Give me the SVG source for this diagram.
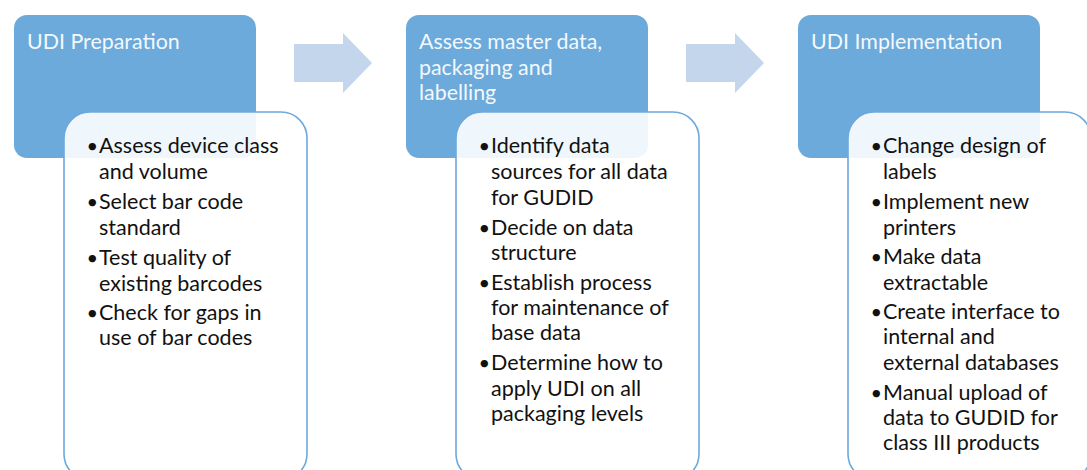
<svg xmlns="http://www.w3.org/2000/svg" width="1087" height="470" viewBox="0 0 1087 470">
<style>
.hdr{fill:#6BAADB;}
.card{fill:#ffffff;fill-opacity:0.9;stroke:#6FA8DC;stroke-width:1.6;}
.arr{fill:#C3D6EC;}
.ht{font-family:Lato,"Liberation Sans",sans-serif;font-size:21.4px;fill:#F4F8FC;}
.bt{font-family:Lato,"Liberation Sans",sans-serif;font-size:21.5px;fill:#111111;}
.bt .b{font-size:20px;}
</style>
<rect width="1087" height="470" fill="#ffffff"/>
<g id="connectors">
<path class="arr" d="M294,44 H343 V33 L372,63 L343,93 V82 H294 Z"/>
<path class="arr" d="M686,44 H735 V33 L764,63 L735,93 V82 H686 Z"/>
</g>
<g id="step1">
<rect class="hdr" x="14" y="15" width="242" height="143" rx="13"/>
<text class="ht" x="27" y="49">UDI Preparation</text>
<rect class="card" x="64" y="112" width="243" height="368" rx="26"/>
<g class="bt">
<text class="b" x="86.5" y="153">•</text>
<text x="99" y="153">Assess device class</text>
<text x="99" y="179">and volume</text>
<text class="b" x="86.5" y="209">•</text>
<text x="99" y="209">Select bar code</text>
<text x="99" y="235">standard</text>
<text class="b" x="86.5" y="265">•</text>
<text x="99" y="265">Test quality of</text>
<text x="99" y="291">existing barcodes</text>
<text class="b" x="86.5" y="320">•</text>
<text x="99" y="320">Check for gaps in</text>
<text x="99" y="345">use of bar codes</text>
</g>
</g>
<g id="step2">
<rect class="hdr" x="406" y="15" width="242" height="143" rx="13"/>
<text class="ht" x="419" y="49">Assess master data,</text>
<text class="ht" x="419" y="75">packaging and</text>
<text class="ht" x="419" y="100">labelling</text>
<rect class="card" x="456" y="112" width="243" height="368" rx="26"/>
<g class="bt">
<text class="b" x="478.5" y="153">•</text>
<text x="491" y="153">Identify data</text>
<text x="491" y="179">sources for all data</text>
<text x="491" y="205">for GUDID</text>
<text class="b" x="478.5" y="235">•</text>
<text x="491" y="235">Decide on data</text>
<text x="491" y="260">structure</text>
<text class="b" x="478.5" y="290">•</text>
<text x="491" y="290">Establish process</text>
<text x="491" y="315">for maintenance of</text>
<text x="491" y="340">base data</text>
<text class="b" x="478.5" y="370">•</text>
<text x="491" y="370">Determine how to</text>
<text x="491" y="396">apply UDI on all</text>
<text x="491" y="421">packaging levels</text>
</g>
</g>
<g id="step3">
<rect class="hdr" x="798" y="15" width="242" height="143" rx="13"/>
<text class="ht" x="811" y="49">UDI Implementation</text>
<rect class="card" x="848" y="112" width="243" height="368" rx="26"/>
<g class="bt">
<text class="b" x="870.5" y="153">•</text>
<text x="883" y="153">Change design of</text>
<text x="883" y="179">labels</text>
<text class="b" x="870.5" y="209">•</text>
<text x="883" y="209">Implement new</text>
<text x="883" y="235">printers</text>
<text class="b" x="870.5" y="264">•</text>
<text x="883" y="264">Make data</text>
<text x="883" y="290">extractable</text>
<text class="b" x="870.5" y="319">•</text>
<text x="883" y="319">Create interface to</text>
<text x="883" y="344">internal and</text>
<text x="883" y="370">external databases</text>
<text class="b" x="870.5" y="400">•</text>
<text x="883" y="400">Manual upload of</text>
<text x="883" y="425">data to GUDID for</text>
<text x="883" y="450">class III products</text>
</g>
</g>
</svg>
